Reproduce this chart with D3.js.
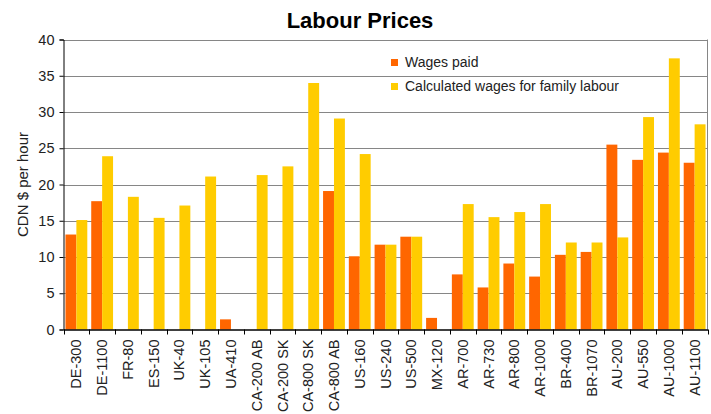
<!DOCTYPE html>
<html><head><meta charset="utf-8">
<script src="https://cdn.jsdelivr.net/npm/d3@7"></script>
<style>body{margin:0;background:#fff}svg{display:block;font-family:"Liberation Sans",Arial,sans-serif}</style>
</head><body><svg id="c" width="711" height="414"></svg>
<script>
const categories = ["DE-300","DE-1100","FR-80","ES-150","UK-40","UK-105","UA-410","CA-200 AB","CA-200 SK","CA-800 SK","CA-800 AB","US-160","US-240","US-500","MX-120","AR-700","AR-730","AR-800","AR-1000","BR-400","BR-1070","AU-200","AU-550","AU-1000","AU-1100"];
const wagesPaid = [13.1,17.7,null,null,null,null,1.4,null,null,null,19.1,10.1,11.7,12.8,1.6,7.6,5.8,9.1,7.3,10.3,10.7,25.5,23.4,24.4,23.0];
const familyWages = [15.1,23.9,18.3,15.4,17.1,21.1,null,21.3,22.5,34.0,29.1,24.2,11.7,12.8,null,17.3,15.5,16.2,17.3,12.0,12.0,12.7,29.3,37.4,28.3];
const seriesNames = ["Wages paid","Calculated wages for family labour"];
const seriesColors = ["#FF6600","#FFCC00"];
const yTicks = [0,5,10,15,20,25,30,35,40];

const svg = d3.select("#c");
const L=63.5, R=707.5, T=39.5, B=329.5;
const x0 = d3.scaleBand().domain(categories).range([L,R]).paddingInner(0).paddingOuter(0);
const x1 = d3.scaleBand().domain([0,1]).range([0,x0.bandwidth()]).paddingInner(0).paddingOuter(0.18);
const y = d3.scaleLinear().domain([0,40]).range([B,T]);

// gridlines
svg.append("g").selectAll("line").data(yTicks.filter(d=>d>0)).join("line")
  .attr("x1",L).attr("x2",R).attr("y1",d=>Math.round(y(d))+0.5).attr("y2",d=>Math.round(y(d))+0.5)
  .attr("stroke","#868686").attr("stroke-width",1);
// right border
svg.append("line").attr("x1",R).attr("x2",R).attr("y1",T).attr("y2",B).attr("stroke","#868686");

const series=[wagesPaid,familyWages];
series.forEach((vals,si)=>{
  svg.append("g").selectAll("rect").data(categories.map((c,i)=>({c,v:vals[i]})).filter(d=>d.v!=null)).join("rect")
    .attr("x",d=>x0(d.c)+x1(si)).attr("width",x1.bandwidth())
    .attr("y",d=>y(d.v)).attr("height",d=>y(0)-y(d.v))
    .attr("fill",seriesColors[si]);
});

// y axis
const ya = svg.append("g").attr("transform",`translate(${L},0)`)
  .call(d3.axisLeft(y).tickValues(yTicks).tickSize(4).tickPadding(5));
ya.select(".domain").attr("stroke","#000");
ya.selectAll("line").attr("stroke","#000");
ya.selectAll("text").attr("font-size",14.5).attr("fill","#222").attr("font-family","Liberation Sans, Arial, sans-serif");

// x axis
const xa = svg.append("g").attr("transform",`translate(0,${B})`)
  .call(d3.axisBottom(x0).tickSize(0).tickPadding(0));
xa.select(".domain").attr("stroke","#000").attr("stroke-width",1.3);
xa.selectAll(".tick text").attr("font-size",14.5).attr("fill","#222").attr("font-family","Liberation Sans, Arial, sans-serif")
  .attr("transform","rotate(-90)").attr("text-anchor","end").attr("x",-10).attr("y",0).attr("dy","0.35em");
// category separator ticks
svg.append("g").selectAll("line").data(categories.concat(["_end"])).join("line")
  .attr("x1",(d,i)=>Math.round(L+i*x0.step())+0.5).attr("x2",(d,i)=>Math.round(L+i*x0.step())+0.5)
  .attr("y1",B).attr("y2",B+5).attr("stroke","#000");

// title
svg.append("text").attr("x",360).attr("y",28).attr("text-anchor","middle")
  .attr("font-size",22).attr("font-weight","bold").attr("fill","#000").text("Labour Prices");
// y title
svg.append("text").attr("transform",`translate(28,${(T+B)/2}) rotate(-90)`).attr("text-anchor","middle")
  .attr("font-size",15).attr("fill","#222").text("CDN $ per hour");

// legend
const lg = svg.append("g");
seriesNames.forEach((n,i)=>{
  lg.append("rect").attr("x",391).attr("y",59+i*24).attr("width",7).attr("height",7).attr("fill",seriesColors[i]);
  lg.append("text").attr("x",405).attr("y",62.5+i*24).attr("dy","0.35em").attr("font-size",14).attr("fill","#222").text(n);
});
</script></body></html>
